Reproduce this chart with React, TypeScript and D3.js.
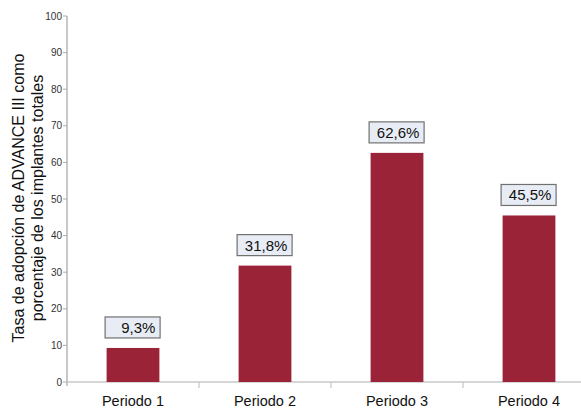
import React from "react";
import * as d3 from "d3";

const categories = ["Periodo 1", "Periodo 2", "Periodo 3", "Periodo 4"];
const values = [9.3, 31.8, 62.6, 45.5];
const valueLabels = ["9,3%", "31,8%", "62,6%", "45,5%"];
const yTicks = [0, 10, 20, 30, 40, 50, 60, 70, 80, 90, 100];
const titleLines = ["Tasa de adopción de ADVANCE III como", "porcentaje de los implantes totales"];

const W = 581, H = 410;
const left = 67, right = 595, top = 16, bottom = 382;

export default function App() {
  const x = d3.scaleBand<string>().domain(categories).range([left, right]).paddingInner(0).paddingOuter(0);
  const y = d3.scaleLinear().domain([0, 100]).range([bottom, top]);
  const bw = x.bandwidth() * 0.4;
  const font = "'Liberation Sans', Arial, Helvetica, sans-serif";
  return (
    <svg width={W} height={H} style={{ position: "absolute", left: 0, top: 0, background: "#fff" }} fontFamily={font}>
      {/* y axis */}
      <line x1={left} x2={left} y1={top} y2={bottom + 4} stroke="#c8c8c8" strokeWidth={2} />
      {yTicks.map((t) => (
        <g key={t}>
          <line x1={left - 4} x2={left} y1={y(t)} y2={y(t)} stroke="#aaa" strokeWidth={1} />
          <text x={left - 5} y={y(t)} dy="0.35em" textAnchor="end" fontSize={10} fill="#333">{t}</text>
        </g>
      ))}
      {/* x axis */}
      <line x1={left} x2={right} y1={bottom} y2={bottom} stroke="#c8c8c8" strokeWidth={1.5} />
      {categories.slice(1).map((c) => (
        <line key={c} x1={x(c)!} x2={x(c)!} y1={bottom} y2={bottom + 6} stroke="#bbb" strokeWidth={1} />
      ))}
      {/* bars */}
      {categories.map((c, i) => {
        const cx = x(c)! + x.bandwidth() / 2;
        const yt = y(values[i]);
        return (
          <g key={c}>
            <rect x={cx - bw / 2} y={yt} width={bw} height={bottom - yt} fill="#9b2337" />
            <rect x={cx - bw / 2 - 1.5} y={yt - 31} width={55} height={21} fill="#e8edf5" stroke="#707070" strokeWidth={1.2} />
            <text x={cx + bw / 2 - 4} y={yt - 15} textAnchor="end" fontSize={15} fill="#111">{valueLabels[i]}</text>
            <text x={cx} y={bottom + 24} textAnchor="middle" fontSize={14.5} fill="#111">{c}</text>
          </g>
        );
      })}
      {/* y title */}
      <g transform={`translate(24, 198) rotate(-90)`}>
        {titleLines.map((l, i) => (
          <text key={i} x={0} y={i * 19} textAnchor="middle" fontSize={16} fill="#111">{l}</text>
        ))}
      </g>
    </svg>
  );
}
